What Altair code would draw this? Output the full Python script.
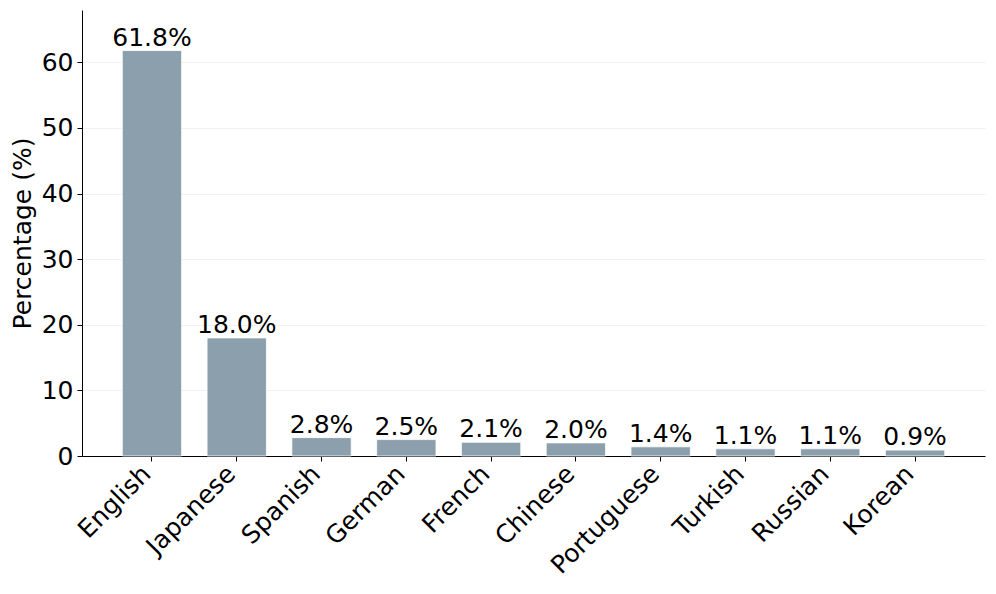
import altair as alt
import pandas as pd

languages = ["English", "Japanese", "Spanish", "German", "French", "Chinese",
             "Portuguese", "Turkish", "Russian", "Korean"]
percentages = [61.8, 18.0, 2.8, 2.5, 2.1, 2.0, 1.4, 1.1, 1.1, 0.9]

df = pd.DataFrame({"Language": languages, "Percentage": percentages})
df["Label"] = [f"{v:.1f}%" for v in percentages]

FONT = "DejaVu Sans"
FS = 25

x_enc = alt.X("Language:N", sort=languages, title=None,
              scale=alt.Scale(paddingInner=0.3, paddingOuter=0.475),
              axis=alt.Axis(labelAngle=-45, labelAlign="right", labelBaseline="top",
                            labelFontSize=FS, labelFont=FONT, labelColor="black",
                            tickColor="black", tickSize=5, labelPadding=0,
                            labelOffset=-14,
                            domainColor="black", grid=False))
y_enc = alt.Y("Percentage:Q", title="Percentage (%)",
              scale=alt.Scale(domain=[0, 67.98], nice=False, zero=True),
              axis=alt.Axis(values=[0, 10, 20, 30, 40, 50, 60], labelFontSize=FS,
                            labelFont=FONT, labelColor="black", tickColor="black",
                            tickSize=5, labelPadding=4, titleFontSize=FS,
                            titleFont=FONT, titleFontWeight="normal",
                            titleColor="black", titlePadding=6,
                            domainColor="black", grid=True, gridColor="#eeeeee",
                            gridWidth=0.8))

bars = alt.Chart(df).mark_bar(color="#8c9fad", stroke="white", strokeWidth=0.8).encode(
    x=x_enc, y=y_enc)

text = alt.Chart(df).mark_text(fontSize=FS, font=FONT, color="black",
                               baseline="bottom", dy=0).encode(
    x=alt.X("Language:N", sort=languages),
    y=alt.Y("Percentage:Q"),
    text="Label:N")

chart = (bars + text).properties(
    width=903, height=446,
    background="white",
    autosize=alt.AutoSizeParams(type="none"),
    padding={"left": 74, "top": 2, "right": 3, "bottom": 130},
).configure_view(stroke=None)

chart.save("out.html", embed_options={"renderer": "svg", "actions": False})
